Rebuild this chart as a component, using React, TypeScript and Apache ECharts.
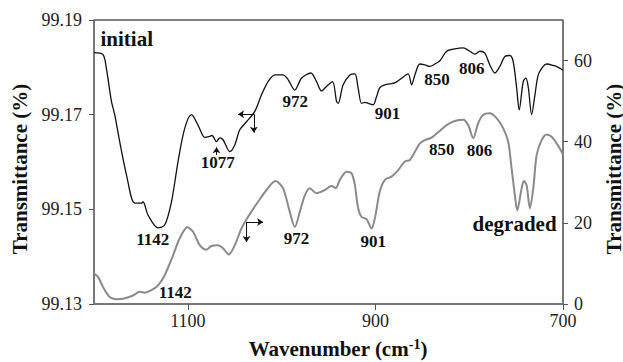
import React, { useEffect, useRef } from "react";
import * as echarts from "echarts";

// FTIR transmittance spectra: initial film (left axis) and degraded film (right axis)
const wnInitial = [
  1200, 1190.4, 1186.8, 1181.4, 1177.9, 1172.6, 1165.4, 1156.6, 1149.4, 1147.7, 1142.4, 1131.7,
  1124.6, 1117.4, 1110.4, 1103.3, 1096.1, 1089.1, 1081.9, 1076.6, 1074.1, 1069.4, 1065.9, 1062.4,
  1055.2, 1049.9, 1044.6, 1037.4, 1028.6, 1021.4, 1014.4, 1007.2, 998.4, 993.1, 985.9, 978.8,
  968.8, 962.8, 957.4, 952.0, 945.7, 941.4, 939.7, 934.4, 927.2, 921.9, 918.4, 914.8, 911.2,
  907.7, 902.4, 898.8, 895.3, 889.9, 884.6, 879.3, 872.1, 865.1, 861.4, 857.9, 852.6, 847.2,
  841.9, 836.6, 831.2, 824.1, 815.3, 806.4, 799.2, 793.9, 788.6, 783.3, 778.0, 772.6, 767.3,
  762.0, 756.6, 753.1, 749.4, 746.7, 742.4, 739.6, 737.1, 733.4, 729.9, 726.4, 721.1, 717.4,
  710.4, 705.1, 700,
];
const tInitial = [
  99.1831, 99.1827, 99.1798, 99.1728, 99.17, 99.1643, 99.1573, 99.1513, 99.1513, 99.1516, 99.1488,
  99.1461, 99.1467, 99.1516, 99.1601, 99.1671, 99.17, 99.1678, 99.1652, 99.1654, 99.1656, 99.1643,
  99.1651, 99.1647, 99.1622, 99.1636, 99.1668, 99.1685, 99.1707, 99.1742, 99.177, 99.1784, 99.1784,
  99.1774, 99.1752, 99.1777, 99.1788, 99.177, 99.175, 99.176, 99.177, 99.1728, 99.1724, 99.1763,
  99.1784, 99.1786, 99.1756, 99.1724, 99.1726, 99.1724, 99.1721, 99.1738, 99.1757, 99.1763,
  99.1765, 99.1767, 99.1777, 99.1786, 99.1763, 99.1784, 99.1807, 99.1805, 99.1802, 99.1807,
  99.1814, 99.1834, 99.1839, 99.1841, 99.1834, 99.1828, 99.1834, 99.183, 99.1805, 99.1788, 99.1802,
  99.1823, 99.1825, 99.1812, 99.1756, 99.171, 99.177, 99.1777, 99.1759, 99.17, 99.1742, 99.1784,
  99.1802, 99.1807, 99.1804, 99.18, 99.1794,
];

const wnDegraded = [
  1200, 1195.7, 1190.4, 1183.3, 1176.1, 1169.1, 1158.4, 1151.3, 1145.9, 1138.8, 1131.7, 1124.6,
  1115.7, 1108.6, 1100.4, 1094.4, 1087.3, 1080.1, 1074.8, 1067.7, 1062.4, 1056.3, 1049.9, 1042.8,
  1035.7, 1025.1, 1016.1, 1006.5, 998.4, 991.3, 985.9, 980.6, 975.2, 969.9, 962.8, 953.9, 946.8,
  942.2, 937.9, 930.8, 925.4, 921.9, 918.4, 914.8, 909.4, 904.1, 900.6, 895.3, 889.9, 882.8,
  875.7, 868.6, 863.3, 857.9, 852.6, 847.2, 840.1, 831.2, 824.1, 815.3, 806.4, 801.1, 795.7,
  790.4, 785.1, 778.0, 770.8, 763.7, 758.4, 754.8, 751.3, 748.8, 744.1, 741.7, 738.8, 735.3,
  731.7, 728.1, 722.8, 717.4, 712.1, 706.8, 701.4, 700,
];
const tDegraded = [
  7.5, 6.7, 4.2, 1.7, 1.2, 1.3, 2.1, 3.0, 2.8, 3.4, 4.6, 7.1, 12.0, 16.2, 18.9, 17.8, 14.5, 13.4,
  14.3, 14.5, 13.7, 12.2, 14.5, 18.6, 21.5, 25.2, 28.1, 30.3, 28.5, 22.7, 19.0, 22.7, 26.8, 28.5,
  27.3, 28.1, 29.1, 28.6, 30.6, 32.6, 32.2, 29.3, 23.6, 21.5, 20.9, 18.6, 21.1, 27.7, 30.6, 31.4,
  33.0, 35.1, 35.5, 37.5, 39.6, 40.4, 41.0, 42.7, 44.1, 45.1, 45.4, 44.1, 40.9, 44.6, 46.6, 47.0,
  45.8, 43.3, 40.0, 33.4, 26.8, 23.1, 28.5, 30.3, 29.3, 23.6, 28.5, 36.7, 40.4, 41.8, 41.2, 39.6,
  37.5, 36.7,
];

const xTicks = [700, 900, 1100];
const leftTicks = [99.13, 99.15, 99.17, 99.19];
const rightTicks = [0, 20, 40, 60];

// Peak annotations: [text, wavenumber, transmittance, fontSize]
const initialLabels: [string, number, number, number][] = [
  ["initial", 1165.1, 99.186, 21],
  ["1142", 1137.4, 99.1437, 17],
  ["1077", 1068, 99.1599, 17],
  ["972", 985.4, 99.1728, 17],
  ["901", 887.2, 99.1702, 17],
  ["850", 834.4, 99.1774, 17],
  ["806", 797.3, 99.1798, 17],
];
const degradedLabels: [string, number, number, number][] = [
  ["1142", 1113.4, 2.8, 17],
  ["972", 984.1, 16.2, 17],
  ["901", 902.2, 15.5, 17],
  ["850", 829.3, 38.2, 17],
  ["806", 788.9, 37.8, 17],
  ["degraded", 751.6, 19.6, 21],
];

// Arrow annotations: [from, to] in data units
const initialArrows: [number[], number[]][] = [
  [[1029.6, 99.1701], [1046.4, 99.1701]],
  [[1029.6, 99.1701], [1029.6, 99.1662]],
  [[1069.4, 99.1615], [1069.4, 99.1631]],
];
const degradedArrows: [number[], number[]][] = [
  [[1037.4, 20.2], [1019.7, 20.2]],
  [[1037.4, 20.2], [1037.4, 15.3]],
];

const FONT = "Liberation Serif, Times New Roman, serif";

const zip = (xs: number[], ys: number[]) => xs.map((x, i) => [x, ys[i]]);

const markPoints = (labels: [string, number, number, number][]) => ({
  silent: true,
  symbol: "circle",
  symbolSize: 0,
  data: labels.map(([name, x, y, size]) => ({
    name,
    coord: [x, y],
    label: {
      show: true,
      position: "inside",
      formatter: name,
      color: "#111",
      fontFamily: FONT,
      fontWeight: "bold",
      fontSize: size,
    },
  })),
});

const markLines = (arrows: [number[], number[]][]) => ({
  silent: true,
  symbol: ["none", "arrow"],
  symbolSize: 6,
  label: { show: false },
  lineStyle: { color: "#111", width: 1, type: "solid" },
  emphasis: { disabled: true },
  data: arrows.map(([a, b]) => [{ coord: a }, { coord: b }]),
});

export default function App() {
  const ref = useRef<HTMLDivElement>(null);

  useEffect(() => {
    if (!ref.current) return;
    const chart = echarts.init(ref.current, undefined, { renderer: "svg" });
    const axisLabelBase = { color: "#222", fontFamily: FONT, fontSize: 18, fontWeight: "normal" };
    const titleStyle = { color: "#111", fontFamily: FONT, fontWeight: "bold", fontSize: 21 };

    chart.setOption({
      animation: false,
      backgroundColor: "#fff",
      textStyle: { fontFamily: FONT },
      grid: {
        left: 94,
        right: 60,
        top: 20,
        bottom: 58,
        containLabel: false,
        outerBoundsMode: "none",
        show: true,
        borderColor: "#000",
        borderWidth: 1,
        backgroundColor: "transparent",
      },
      xAxis: {
        type: "value",
        min: 700,
        max: 1200,
        inverse: true,
        splitLine: { show: false },
        axisLine: { show: true, lineStyle: { color: "#777", width: 2 } },
        axisTick: { show: true, length: 6, customValues: xTicks, lineStyle: { color: "#555", width: 1 } },
        axisLabel: {
          ...axisLabelBase,
          margin: 8,
          customValues: xTicks,
          formatter: (v: number) => String(v),
        },
        name: "Wavenumber (cm{sup|-1})",
        nameLocation: "middle",
        nameGap: 33,
        nameTextStyle: {
          ...titleStyle,
          padding: [0, 0, 0, 19],
          rich: {
            sup: { ...titleStyle, fontSize: 14, verticalAlign: "top", padding: [0, 0, 10, 0] },
          },
        },
      },
      yAxis: [
        {
          type: "value",
          position: "left",
          min: 99.13,
          max: 99.19,
          splitLine: { show: false },
          axisLine: { show: true, lineStyle: { color: "#777", width: 1.5 } },
          axisTick: { show: true, length: 5, customValues: leftTicks, lineStyle: { color: "#555" } },
          axisLabel: {
            ...axisLabelBase,
            margin: 12,
            customValues: leftTicks,
            formatter: (v: number) => v.toFixed(2),
          },
          name: "Transmittance (%)",
          nameLocation: "middle",
          nameRotate: 90,
          nameGap: 62,
          nameTextStyle: { ...titleStyle, padding: [0, 14, 0, 0] },
        },
        {
          type: "value",
          position: "right",
          min: 0,
          max: 70,
          splitLine: { show: false },
          axisLine: { show: true, lineStyle: { color: "#777", width: 1.5 } },
          axisTick: { show: true, length: 5, customValues: rightTicks, lineStyle: { color: "#555" } },
          axisLabel: {
            ...axisLabelBase,
            margin: 11,
            customValues: rightTicks,
            formatter: (v: number) => String(v),
          },
          name: "Transmittance (%)",
          nameLocation: "middle",
          nameRotate: 90,
          nameGap: 40,
          nameTextStyle: { ...titleStyle, padding: [0, 14, 0, 0] },
        },
      ],
      series: [
        {
          name: "initial",
          type: "line",
          yAxisIndex: 0,
          data: zip(wnInitial, tInitial),
          showSymbol: false,
          smooth: 0.3,
          lineStyle: { color: "#111", width: 1.3 },
          markPoint: markPoints(initialLabels),
          markLine: markLines(initialArrows),
          z: 3,
        },
        {
          name: "degraded",
          type: "line",
          yAxisIndex: 1,
          data: zip(wnDegraded, tDegraded),
          showSymbol: false,
          smooth: 0.3,
          lineStyle: { color: "#8a8a8a", width: 2 },
          markPoint: markPoints(degradedLabels),
          markLine: markLines(degradedArrows),
          z: 2,
        },
      ],
    });

    return () => chart.dispose();
  }, []);

  return (
    <div
      ref={ref}
      style={{ position: "fixed", left: 0, top: 0, width: 623, height: 362, background: "#fff" }}
    />
  );
}
